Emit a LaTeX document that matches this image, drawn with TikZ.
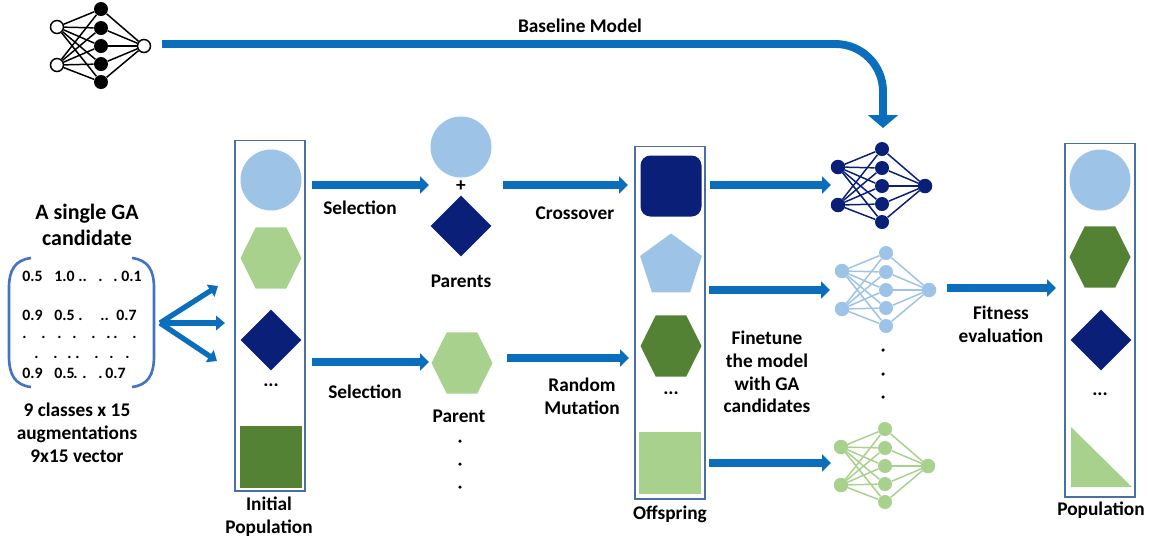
\documentclass[tikz,border=0pt]{standalone}
\usepackage{fontspec}
\setmainfont{Carlito}
\usetikzlibrary{arrows.meta,shapes.geometric}
\definecolor{navyfill}{HTML}{0A1F78}
\definecolor{skyfill}{HTML}{9DC3E6}
\definecolor{leaffill}{HTML}{A9D18E}
\definecolor{mossfill}{HTML}{548235}
\definecolor{flowblue}{HTML}{0A6EBD}
\definecolor{boxblue}{HTML}{4A6FA5}
\definecolor{bracketblue}{HTML}{4472C4}
\tikzset{
  lbl/.style={font=\bfseries\fontsize{11}{13}\selectfont,align=center,inner sep=0pt,text=black},
  vals/.style={font=\bfseries\fontsize{9}{10}\selectfont,anchor=base west,inner sep=0pt,text=black},
  popbox/.style={draw=boxblue,line width=0.6pt,fill=none},
  roundshape/.style={circle,minimum size=1.22cm,inner sep=0pt},
  hexshape/.style={regular polygon,regular polygon sides=6,minimum size=1.22cm,inner sep=0pt,yscale=1.16,transform shape},
  penshape/.style={regular polygon,regular polygon sides=5,minimum size=1.3cm,inner sep=0pt},
  diashape/.style={diamond,aspect=1,minimum size=1.22cm,inner sep=0pt},
  squareshape/.style={rectangle,minimum size=1.24cm,inner sep=0pt},
  flow/.style={-{Triangle[length=5pt,width=9.5pt]},draw=flowblue,line width=4.6pt},
  bigflow/.style={-{Triangle[length=7.4pt,width=17pt]},draw=flowblue,line width=4.5pt,rounded corners=0.95cm},
  fan/.style={-{Triangle[length=5pt,width=8pt]},draw=flowblue,line width=3pt},
  bracket/.style={draw=bracketblue,line width=1.5pt},
  dot/.style={circle,fill=black,minimum size=2pt,inner sep=0pt},
  netlink/.style={line width=0.85pt}
}
% #1 name, #2 input x, #3 upper input y, #4 colour, #5 fill of input and output
\newcommand{\nnet}[5]{
  \begin{scope}[shift={(#2,#3)}]
    \foreach \i/\y in {1/0,2/38} \node[circle,draw=#4,line width=0.85pt,fill=#5,minimum size=0.26cm,inner sep=0pt] (#1in\i) at (0,\y) {};
    \foreach \i/\y in {1/-18,2/1,3/19,4/37,5/55} \node[circle,fill=#4,minimum size=0.28cm,inner sep=0pt] (#1h\i) at (44,\y) {};
    \node[circle,draw=#4,line width=0.85pt,fill=#5,minimum size=0.26cm,inner sep=0pt] (#1out) at (87,19) {};
    \foreach \i in {1,2} \foreach \j in {1,...,5} \draw[netlink,#4] (#1in\i) -- (#1h\j);
    \foreach \j in {1,...,5} \draw[netlink,#4] (#1h\j) -- (#1out);
  \end{scope}
}
\begin{document}
\begin{tikzpicture}[x=0.02cm,y=-0.02cm]
  \useasboundingbox (0,0) rectangle (1149,539);

  % networks
  \nnet{base}{57}{27}{black}{white}
  \nnet{navy}{838}{167}{navyfill}{navyfill}
  \nnet{sky}{842}{271}{skyfill}{skyfill}
  \nnet{leaf}{841}{447}{leaffill}{leaffill}
  \node[dot] (netdota) at (883,350) {};
  \node[dot] (netdotb) at (883,374) {};
  \node[dot] (netdotc) at (883,397) {};

  % baseline arrow
  \node[lbl] (baseline) at (580,26) {Baseline Model};
  \coordinate (basestart) at (162,44);
  \coordinate (basebend) at (883,44);
  \coordinate (baseend) at (883,128);
  \draw[bigflow] (basestart) -- (basebend) -- (baseend);

  % candidate
  \node[lbl,font=\bfseries\fontsize{12.5}{15}\selectfont] (candtitle) at (87,225) {A single GA\\candidate};
  \foreach \x/\t in {22/0.5,54/1.0,78/..,98/.,113/.,121/0.1} \node[vals] (rowa\x) at (\x,281) {\t};
  \foreach \x/\t in {22/0.9,54/0.5,78/.,100/..,116/0.7} \node[vals] (rowb\x) at (\x,320) {\t};
  \foreach \x in {22,41,57,72,91,106,113,132} \node[vals] (rowc\x) at (\x,338) {.};
  \foreach \x in {34,53,67,75,94,109,125} \node[vals] (rowd\x) at (\x,358) {.};
  \foreach \x/\t in {22/0.9,54/0.5,73/.,82/.,98/.,105/0.7} \node[vals] (rowe\x) at (\x,378) {\t};
  \coordinate (lbrtop) at (31,258);
  \coordinate (lbrbot) at (31,387);
  \coordinate (rbrtop) at (132,258);
  \coordinate (rbrbot) at (132,387);
  \draw[bracket] (lbrtop) .. controls (15,260) and (9,270) .. (9,288) -- (9,356) .. controls (9,375) and (15,385) .. (lbrbot);
  \draw[bracket] (rbrtop) .. controls (148,260) and (154,270) .. (154,288) -- (154,356) .. controls (154,375) and (148,385) .. (rbrbot);
  \node[lbl] (candnote) at (77,433) {9 classes x 15\\augmentations\\9x15 vector};
  \coordinate (fanstart) at (160,323);
  \coordinate (fanup) at (218,286);
  \coordinate (fanmid) at (225,323);
  \coordinate (fandown) at (217,361);
  \draw[fan] (fanstart) -- (fanup);
  \draw[fan] (fanstart) -- (fanmid);
  \draw[fan] (fanstart) -- (fandown);

  % initial population
  \node[popbox,minimum width=1.4cm,minimum height=7.02cm,inner sep=0pt] (initbox) at (270,315.5) {};
  \node[roundshape,fill=skyfill] (initcircle) at (271,180) {};
  \node[hexshape,fill=leaffill] (inithex) at (271,258) {};
  \node[diashape,fill=navyfill] (initdia) at (271,340) {};
  \node[lbl] (initdots) at (271,385) {...};
  \node[squareshape,fill=mossfill] (initsquare) at (271,457) {};
  \node[lbl] (initlabel) at (269,517) {Initial\\Population};

  % parents
  \node[roundshape,fill=skyfill] (parcircle) at (461,147) {};
  \node[lbl] (parplus) at (461,186) {+};
  \node[diashape,fill=navyfill] (pardia) at (461,226) {};
  \node[lbl] (parlabel) at (461,281) {Parents};
  \node[hexshape,fill=leaffill] (parhex) at (462,363) {};
  \node[lbl] (parentlabel) at (459,416) {Parent};
  \node[dot] (pardota) at (460,441) {};
  \node[dot] (pardotb) at (460,464) {};
  \node[dot] (pardotc) at (460,487) {};

  % offspring
  \node[popbox,minimum width=1.4cm,minimum height=7.06cm,inner sep=0pt] (offbox) at (670,322.5) {};
  \node[squareshape,rounded corners=0.2cm,fill=navyfill,minimum size=1.22cm] (offsquare) at (671,186) {};
  \node[penshape,fill=skyfill] (offpen) at (671,266) {};
  \node[hexshape,fill=mossfill] (offhex) at (671,346) {};
  \node[lbl] (offdots) at (671,393) {...};
  \node[squareshape,fill=leaffill] (offleaf) at (670,463) {};
  \node[lbl] (offlabel) at (670,514) {Offspring};

  % final population
  \node[popbox,minimum width=1.4cm,minimum height=7.08cm,inner sep=0pt] (finalbox) at (1100,320) {};
  \node[roundshape,fill=skyfill] (finalcircle) at (1100,180) {};
  \node[hexshape,fill=mossfill] (finalhex) at (1100,257) {};
  \node[diashape,fill=navyfill] (finaldia) at (1101,340) {};
  \node[lbl] (finaldots) at (1100,394) {...};
  \coordinate (tria) at (1071,427);
  \coordinate (trib) at (1071,487);
  \coordinate (tric) at (1132,487);
  \fill[leaffill] (tria) -- (trib) -- (tric) -- cycle;
  \node[lbl] (finallabel) at (1101,510) {Population};

  % step arrows
  \coordinate (sela) at (312,185); \coordinate (selb) at (429,185);
  \coordinate (selc) at (312,362); \coordinate (seld) at (429,362);
  \coordinate (crossa) at (503,185); \coordinate (crossb) at (628,185);
  \coordinate (muta) at (507,358); \coordinate (mutb) at (629,358);
  \coordinate (tunea) at (710,185); \coordinate (tuneb) at (831,185);
  \coordinate (tunec) at (709,290); \coordinate (tuned) at (830,290);
  \coordinate (tunee) at (709,463); \coordinate (tunef) at (831,463);
  \coordinate (fita) at (947,288); \coordinate (fitb) at (1056,288);
  \draw[flow] (sela) -- (selb);
  \draw[flow] (selc) -- (seld);
  \draw[flow] (crossa) -- (crossb);
  \draw[flow] (muta) -- (mutb);
  \draw[flow] (tunea) -- (tuneb);
  \draw[flow] (tunec) -- (tuned);
  \draw[flow] (tunee) -- (tunef);
  \draw[flow] (fita) -- (fitb);

  \node[lbl] (sellabela) at (360,208) {Selection};
  \node[lbl] (sellabelb) at (365,392) {Selection};
  \node[lbl] (crosslabel) at (575,213) {Crossover};
  \node[lbl] (mutlabel) at (582,396) {Random\\Mutation};
  \node[lbl] (tunelabel) at (767,372) {Finetune\\the model\\with GA\\candidates};
  \node[lbl] (fitlabel) at (1001,324) {Fitness\\evaluation};
\end{tikzpicture}
\end{document}
